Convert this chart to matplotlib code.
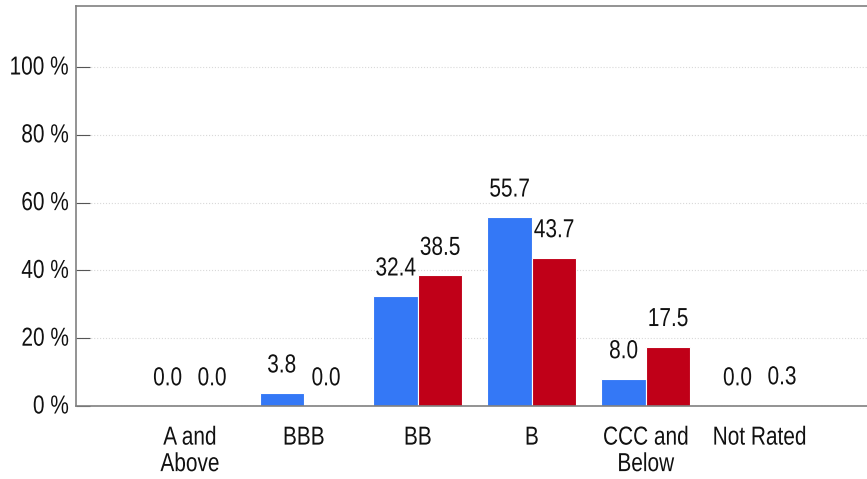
import matplotlib.pyplot as plt
import numpy as np
from matplotlib.patheffects import AbstractPathEffect
from matplotlib.transforms import Affine2D

categories = ['A and\nAbove', 'BBB', 'BB', 'B', 'CCC and\nBelow', 'Not Rated']
series_a = [0.0, 3.8, 32.4, 55.7, 8.0, 0.0]
series_b = [0.0, 0.0, 38.5, 43.7, 17.5, 0.3]
yticks = [0, 20, 40, 60, 80, 100]


class Tall(AbstractPathEffect):
    """Stretch glyphs vertically to mimic a narrow font"""
    def __init__(self, sy):
        super().__init__()
        self.sy = sy

    def draw_path(self, renderer, gc, tpath, affine, rgbFace=None):
        renderer.draw_path(gc, tpath, Affine2D().scale(1, self.sy) + affine, rgbFace)


plt.rcParams['font.family'] = ['Liberation Sans', 'DejaVu Sans']
fs = 15
fx = [Tall(1.25)]

fig = plt.figure(figsize=(8.67, 4.79), dpi=100)
ax = fig.add_axes([76 / 867, (479 - 406) / 479, 1 - 76 / 867, 400 / 479])

x = np.arange(len(categories))
w = 0.39
bars_a = ax.bar(x - w / 2, series_a, w, color='#3478f6', edgecolor='white', linewidth=0.8)
bars_b = ax.bar(x + w / 2, series_b, w, color='#c00018', edgecolor='white', linewidth=0.8)

for bars, vals in [(bars_a, series_a), (bars_b, series_b)]:
    for b, v in zip(bars, vals):
        ax.annotate(f'{v:.1f}', (b.get_x() + b.get_width() / 2, v),
                    xytext=(0, 12), textcoords='offset points',
                    ha='center', va='bottom', fontsize=fs, color='#111111',
                    path_effects=fx)

ax.set_xlim(-1.0, 5.94)
ax.set_ylim(0, 118)
ax.set_yticks(yticks)
ax.set_yticklabels([f'{t} %' for t in yticks], fontsize=fs, color='#111111')
ax.set_xticks(x)
ax.set_xticklabels(categories, fontsize=fs, color='#111111', linespacing=1.5)
ax.tick_params(axis='x', length=0, pad=17)
ax.tick_params(axis='y', direction='in', length=10, color='#555555', pad=5)
for lbl in ax.get_xticklabels() + ax.get_yticklabels():
    lbl.set_path_effects(fx)

ax.grid(axis='y', color='#d9d9d9', linestyle=':', linewidth=0.8)
ax.set_axisbelow(True)
for side in ['left', 'bottom', 'top']:
    ax.spines[side].set_color('#808080')
    ax.spines[side].set_linewidth(1.2)
ax.spines['right'].set_visible(False)

fig.savefig('out.png', dpi=100)
